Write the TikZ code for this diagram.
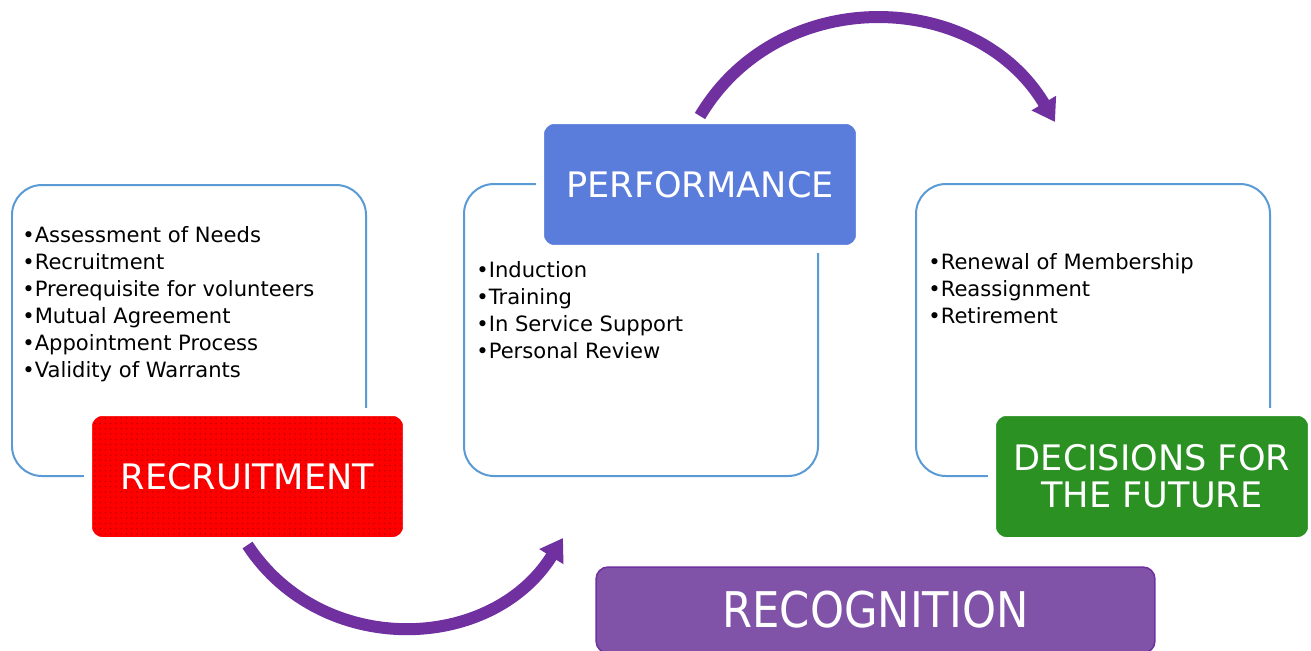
\documentclass[tikz,border=0pt]{standalone}
\usepackage{fontspec}
\setmainfont{DejaVu Sans}
\newfontfamily\narrowfont[FakeStretch=0.88]{DejaVu Sans}
\usepackage{tikz}
\usetikzlibrary{patterns}
\usetikzlibrary{positioning, calc, arrows.meta}

\definecolor{panelblue}{RGB}{91,155,213}
\definecolor{recred}{RGB}{255,0,0}
\definecolor{perfblue}{RGB}{90,125,220}
\definecolor{decgreen}{RGB}{43,145,35}
\definecolor{recogpurple}{RGB}{128,82,168}
\definecolor{arrowpurple}{RGB}{112,48,160}

\tikzset{
    panel/.style={draw=panelblue, line width=0.04cm, rounded corners=0.6cm},
    items/.style={anchor=north west, align=left, inner sep=0pt,
        font=\fontsize{12}{15.4}\selectfont},
    stage/.style={draw=white, line width=0.16cm, rounded corners=0.28cm,
        minimum width=6.4cm, minimum height=2.58cm, align=center, text=white,
        font=\fontsize{20}{21}\selectfont},
    cycle arrow/.style={draw=arrowpurple, line width=0.24cm,
        -{Triangle[length=0.44cm, width=0.54cm]}}
}

\begin{document}
\begin{tikzpicture}[x=0.02cm, y=-0.02cm]

    \path[use as bounding box, fill=white] (0,0) rectangle (1311,650);

    % ================= Panels =================
    \draw[panel] (12,185) rectangle (366,476);
    \draw[panel] (464,184) rectangle (818,476);
    \draw[panel] (916,184) rectangle (1270,476);

    % Lists
    \node[items] (recList) at (22,226) {%
        •Assessment of Needs\\
        •Recruitment\\
        •Prerequisite for volunteers\\
        •Mutual Agreement\\
        •Appointment Process\\
        •Validity of Warrants};
    \node[items] (perfList) at (476,261) {%
        •Induction\\
        •Training\\
        •In Service Support\\
        •Personal Review};
    \node[items] (decList) at (928,253) {%
        •Renewal of Membership\\
        •Reassignment\\
        •Retirement};

    % ================= Stages =================
    \node[stage, minimum width=6.38cm, preaction={fill=recred},
        preaction={pattern=dots, pattern color=recred!75!black}]
        (rec) at (247.5,476.5) {RECRUITMENT};
    \node[stage, preaction={fill=perfblue}] (perf) at (700,184.5) {PERFORMANCE};
    \node[stage, preaction={fill=decgreen}] (dec) at (1152,476.5)
        {DECISIONS FOR\\THE FUTURE};
    \node[draw=arrowpurple, line width=0.03cm, fill=recogpurple,
        rounded corners=0.24cm, minimum width=11.18cm, minimum height=1.72cm,
        text=white, font=\narrowfont\fontsize{28}{30}\selectfont]
        (recog) at (875.5,610) {RECOGNITION};

    % ================= Cycle arrows =================
    \coordinate (perfIn) at (563,538);
    \coordinate (decIn) at (1055,122);
    \draw[cycle arrow] (rec.south) .. controls +(74,113) and +(-72,115) .. (perfIn);
    \draw[cycle arrow] (perf.north) .. controls +(79,-133) and +(-79,-133) .. (decIn);

\end{tikzpicture}
\end{document}
